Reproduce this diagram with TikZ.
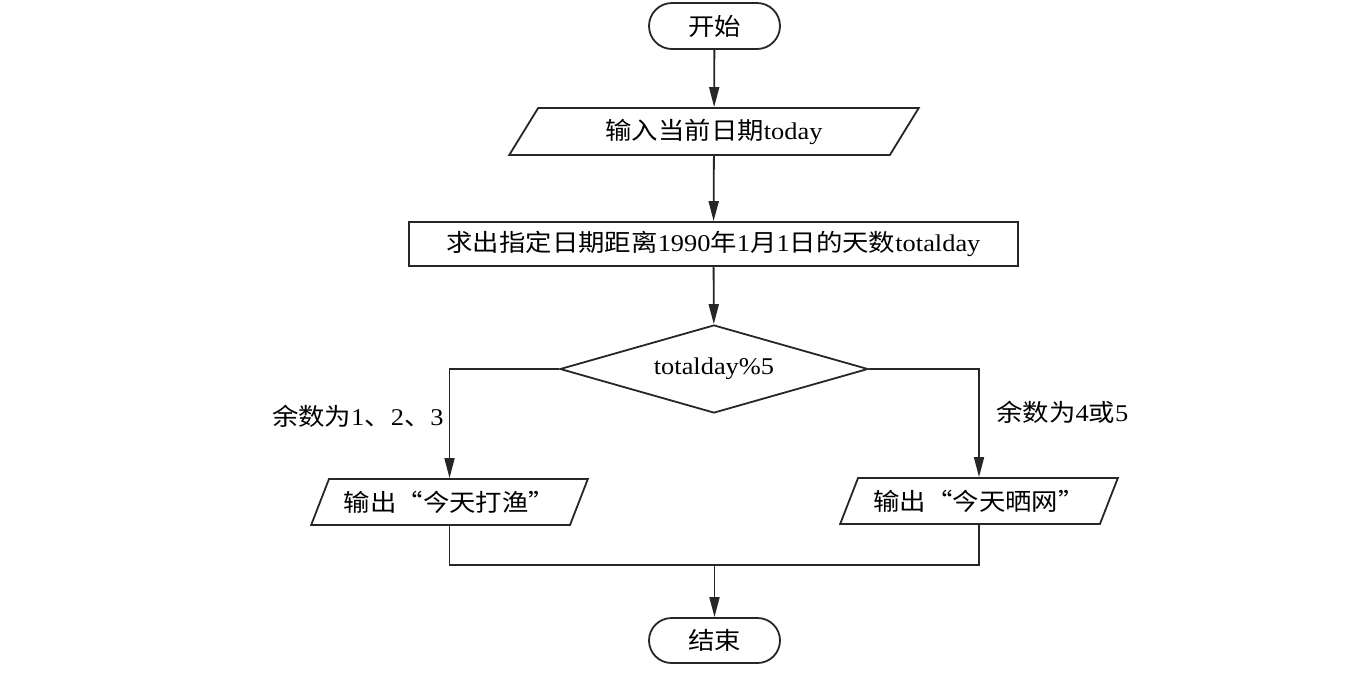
\documentclass[tikz,border=0pt]{standalone}
\usepackage{fontspec}
\setmainfont[FakeStretch=1.1]{Liberation Serif}
\newfontfamily\cjk[FakeStretch=1.1]{Noto Sans CJK SC}
\newcommand{\zh}[1]{{\cjk #1}}
\usetikzlibrary{shapes.geometric,shapes.misc,arrows.meta}
\begin{document}
\begin{tikzpicture}[x=0.5pt,y=-0.5pt,
  every node/.style={font=\fontsize{12pt}{14pt}\selectfont, inner sep=0pt},
  base/.style={draw=black!85, line width=0.9pt},
  term/.style={base, rounded rectangle, minimum width=65.5pt, minimum height=23pt},
  io/.style={base, trapezium, trapezium left angle=55, trapezium right angle=125, trapezium stretches=true, minimum height=23pt},
  proc/.style={base, rectangle, minimum width=304.5pt, minimum height=22pt},
  dec/.style={base, diamond, aspect=3.5, minimum width=154pt, minimum height=44pt},
  line/.style={draw=black!85, line width=0.9pt},
  arr/.style={line, -{Triangle[length=10pt,width=5pt]}}]
\useasboundingbox (0,0) rectangle (1346,676);
\node[term] (start) at (714.5,26) {\zh{开始}};
\node[io, minimum width=205pt, minimum height=23.5pt] (in) at (714,131.5) {\zh{输入当前日期}today};
\node[proc] (calc) at (713.5,244) {\zh{求出指定日期距离}1990\zh{年}1\zh{月}1\zh{日的天数}totalday};
\node[dec] (dec) at (714,369) {totalday\%5};
\node[io, minimum width=138.5pt] (lo) at (449.5,502) {\zh{输出“今天打渔”}};
\node[io, minimum width=139pt] (ro) at (979,501) {\zh{输出“今天晒网”}};
\node[term, minimum height=22.5pt] (end) at (714.5,640.5) {\zh{结束}};
\node[anchor=east] (l1) at (444,416) {\zh{余数为}1\zh{、}2\zh{、}3};
\node[anchor=west] (l2) at (996,412) {\zh{余数为}4\zh{或}5};
\coordinate (j) at (714.5,565);
\draw[arr] (start) -- (in);
\draw[arr] (in) -- (calc);
\draw[arr] (calc) -- (dec);
\draw[arr] (dec.west) -| (lo.north);
\draw[arr] (dec.east) -| (ro.north);
\draw[line] (lo.south) |- (j);
\draw[line] (ro.south) |- (j);
\draw[arr] (j) -- (end.north);
\end{tikzpicture}
\end{document}
